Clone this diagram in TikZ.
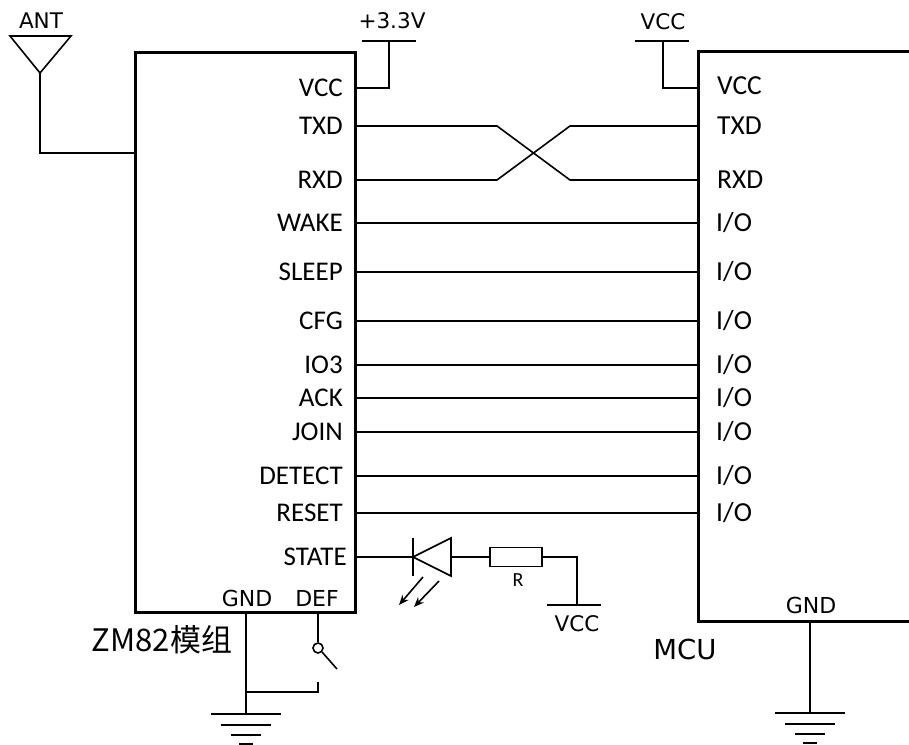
\documentclass[tikz,border=0pt]{standalone}
\usepackage{fontspec}
\setmainfont{DejaVu Sans}
\newfontfamily\pinfont{Carlito}
\newfontfamily\cjkfont{Noto Sans CJK SC}
\usetikzlibrary{positioning,calc,arrows.meta}

\begin{document}
\begin{tikzpicture}[x=1pt, y=-1pt,
        chip/.style={draw, line width=3pt, inner sep=0pt},
        wire/.style={line width=1.6pt},
        gndl/.style={line width=2.6pt},
        lbl/.style={inner sep=0pt, font=\fontsize{21.5}{24}\selectfont},
        pinl/.style={inner sep=0pt, anchor=base east, yshift=-8.7pt, font=\pinfont\fontsize{27}{30}\selectfont},
        pinr/.style={inner sep=0pt, anchor=base west, yshift=-8.7pt, font=\pinfont\fontsize{27.5}{30}\selectfont},
        >={Stealth[length=10pt,width=8pt]}
    ]
        \useasboundingbox (0,0) rectangle (909,744);

        % the two chips
        \node [chip, minimum width=220pt, minimum height=560pt] (zm) at (245,332) {};
        \node [chip, minimum width=260pt, minimum height=570pt] (mcu) at (828,336) {};
        \node [inner sep=0pt, font=\cjkfont\fontsize{31}{34}\selectfont] (zmname) at (162,640) {ZM82模组};
        \node [inner sep=0pt, font=\fontsize{27.5}{30}\selectfont] (mcuname) at (685,649) {MCU};

        % antenna
        \coordinate (antL) at (10,36);
        \coordinate (antR) at (71,36);
        \coordinate (antTip) at (40,73);
        \coordinate (zAnt) at (135,153);
        \draw [wire] (antL) -- (antR) -- (antTip) -- cycle;
        \draw [wire] (antTip) |- (zAnt);
        \node [lbl] (ant) at (41,21) {ANT};

        % supplies
        \coordinate (zvcc) at (355,88);
        \coordinate (mvcc) at (698,88);
        \coordinate (supA) at (389,41);
        \coordinate (supB) at (663,41);
        \draw [wire] (362,41) -- (416,41);
        \draw [wire] (supA) |- (zvcc);
        \node [lbl] (v33) at (392,21) {+3.3V};
        \draw [wire] (635,41) -- (689,41);
        \draw [wire] (supB) |- (mvcc);
        \node [lbl] (vccB) at (663,22) {VCC};
        \node [pinl] at ($(zvcc)+(-12,0)$) {VCC};
        \node [pinr] at ($(mvcc)+(19,-2)$) {VCC};

        % uart, crossed
        \coordinate (ztx) at (355,126);
        \coordinate (zrx) at (355,180);
        \coordinate (mtx) at (698,126);
        \coordinate (mrx) at (698,180);
        \node [pinl] at ($(ztx)+(-12,0)$) {TXD};
        \node [pinl] at ($(zrx)+(-12,0)$) {RXD};
        \node [pinr] at ($(mtx)+(19,0)$) {TXD};
        \node [pinr] at ($(mrx)+(19,0)$) {RXD};
        \draw [wire] (ztx) -- ($(ztx)+(142,0)$) -- ($(mrx)+(-128,0)$) -- (mrx);
        \draw [wire] (zrx) -- ($(zrx)+(142,0)$) -- ($(mtx)+(-128,0)$) -- (mtx);

        % i/o lines
        \foreach \y/\pin [count=\i] in {223/WAKE,272/SLEEP,321/CFG,365/IO3,398/ACK,432/JOIN,476/DETECT,513/RESET} {
            \coordinate (za\i) at (355,\y);
            \coordinate (ma\i) at (698,\y);
            \node [pinl] at ($(za\i)+(-12,0)$) {\pin};
            \node [pinr] at ($(ma\i)+(18,0)$) {I/O};
            \draw [wire] (za\i) -- (ma\i);
        }

        % state led
        \coordinate (zst) at (355,557);
        \coordinate (ledK) at (413,557);
        \coordinate (ledA) at (451,557);
        \coordinate (resL) at (489,557);
        \coordinate (vccC) at (577,605);
        \node [pinl] at ($(zst)+(-8,0)$) {STATE};
        \draw [wire] (zst) -- (ledK);
        \draw [wire] (413,538) -- (413,576);
        \draw [wire] (ledK) -- (451,538) -- (451,576) -- cycle;
        \draw [wire] (ledA) -- (resL);
        \node [draw, line width=1.6pt, minimum width=52pt, minimum height=19pt, inner sep=0pt, anchor=west] (res) at (resL) {};
        \node [inner sep=0pt, font=\pinfont\fontsize{20}{22}\selectfont] (rlbl) at (518,580) {R};
        \draw [wire] (res.east) -| (vccC);
        \draw [wire] (547,605) -- (601,605);
        \node [lbl] (vccC lbl) at (577,624) {VCC};
        \draw [wire, ->] (423,577) -- (399,605);
        \draw [wire, ->] (439,581) -- (414,607);

        % ground and def
        \coordinate (zgnd) at (246,612);
        \coordinate (zdef) at (318,612);
        \coordinate (gndA) at (246,714);
        \coordinate (gndB) at (810,713);
        \node [lbl, font=\fontsize{22}{24}\selectfont] at (247,598) {GND};
        \node [lbl, font=\fontsize{22}{24}\selectfont] at (317,598) {DEF};
        \node [lbl, font=\fontsize{22}{24}\selectfont] at (811,605) {GND};
        \draw [wire] (zgnd) -- (gndA);
        \node [draw, circle, line width=1.6pt, minimum size=10pt, inner sep=0pt] (sw) at (318,648) {};
        \draw [wire] (zdef) -- (sw.north);
        \draw [wire] (sw.south east) -- (337,669);
        \draw [wire] (318,682) |- (246,692);
        \draw [wire] (810,621) -- (gndB);
        \foreach \g in {gndA,gndB}
            \foreach \w/\d in {35/0, 25/11, 15/21, 7/30}
                \draw [gndl] ($(\g)+(-\w,\d)$) -- ($(\g)+(\w,\d)$);
\end{tikzpicture}
\end{document}
